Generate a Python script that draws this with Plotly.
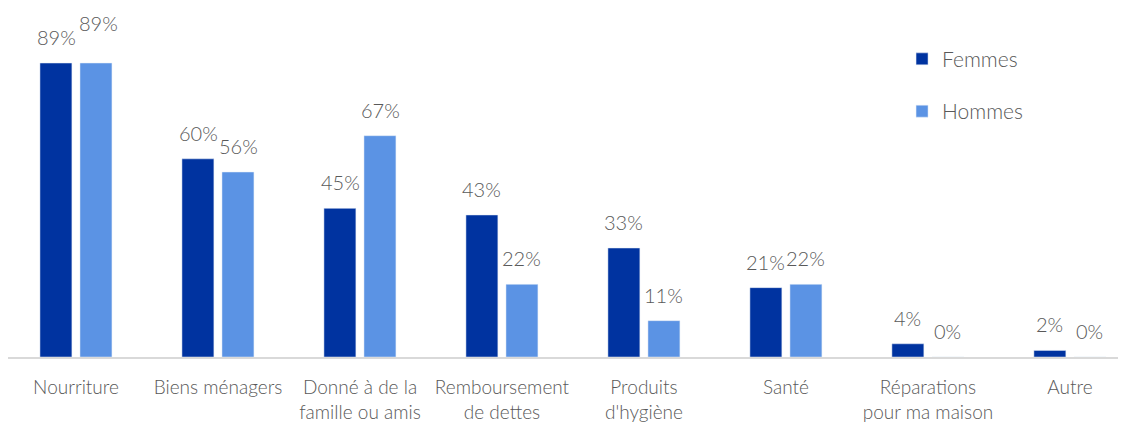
import plotly.graph_objects as go

categories = ["Nourriture", "Biens ménagers", "Donné à de la<br>famille ou amis",
              "Remboursement<br>de dettes", "Produits<br>d'hygiène", "Santé",
              "Réparations<br>pour ma maison", "Autre"]
femmes = [89, 60, 45, 43, 33, 21, 4, 2]
hommes = [89, 56, 67, 22, 11, 22, 0, 0]

FONT = "Lato"
GREY = "#595959"
C_F = "#0033A0"
C_H = "#5B93E4"

fig = go.Figure()
fig.add_trace(go.Bar(name="Femmes", x=categories, y=femmes, marker_color=C_F,
                     width=0.225, offset=-0.254, legendgroup="f"))
fig.add_trace(go.Bar(name="Hommes", x=categories, y=hommes, marker_color=C_H,
                     width=0.225, offset=0.028, legendgroup="h"))

# value labels above bars
for i, cat in enumerate(categories):
    for vals, dx in ((femmes, -20), (hommes, 20)):
        v = vals[i]
        ys = 26
        if vals is hommes and i == 0:
            ys = 40
            dx = 22
        fig.add_annotation(x=cat, y=v, text=f"{v}%", showarrow=False,
                           xshift=dx, yshift=ys, yanchor="middle",
                           font=dict(family=FONT, size=20, color=GREY, weight=300))

fig.update_layout(
    width=1126, height=425,
    margin=dict(l=0, r=0, t=0, b=76),
    barmode="overlay",
    plot_bgcolor="white", paper_bgcolor="white",
    font=dict(family=FONT, color=GREY, size=19, weight=300),
    showlegend=True,
    legend=dict(x=0.794, y=0.912, xanchor="left", yanchor="top",
                font=dict(family=FONT, size=21, color=GREY, weight=300),
                tracegroupgap=22, bgcolor="rgba(0,0,0,0)"),
    xaxis=dict(range=[-0.479, 7.451], showline=True, linecolor="#d9d9d9", linewidth=2,
               ticks="", showgrid=False,
               tickfont=dict(family=FONT, size=19, color=GREY, weight=300),
               ticklabelstandoff=12),
    yaxis=dict(range=[0, 105.66], visible=False, showgrid=False),
)

fig.write_html("out.html")
